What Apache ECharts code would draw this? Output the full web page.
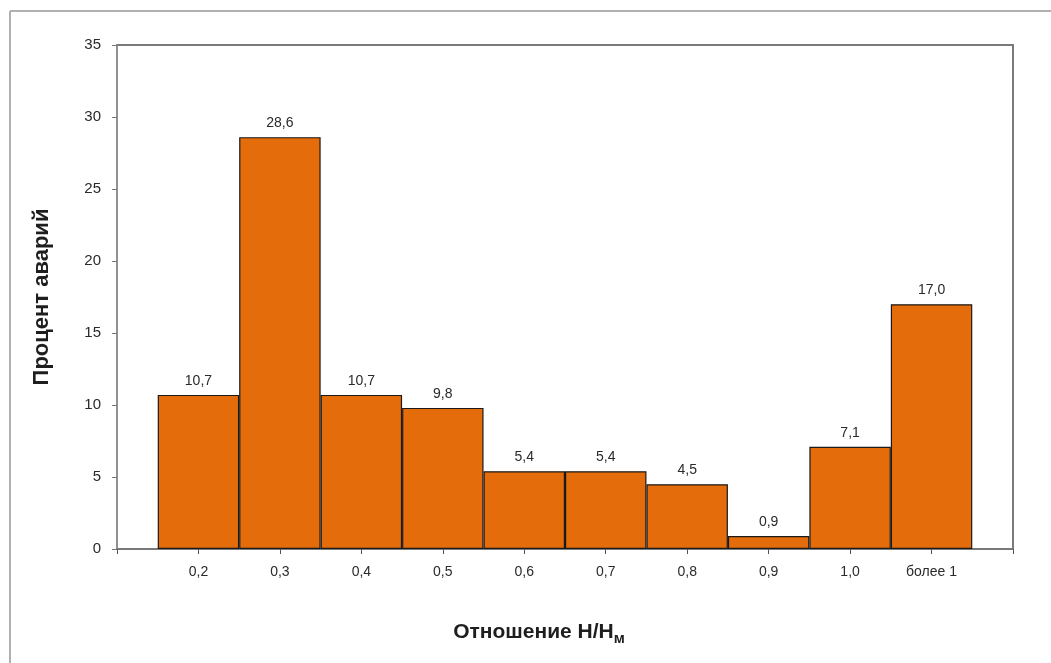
<!DOCTYPE html>
<html>
<head>
<meta charset="utf-8">
<script src="https://cdn.jsdelivr.net/npm/echarts@6/dist/echarts.min.js"></script>
<style>
  html, body { margin: 0; padding: 0; background: #fff; }
  #chart { width: 1051px; height: 663px; }
</style>
</head>
<body>
<div id="chart"></div>
<script>
// Ratio classes (H/Hm) and share of accidents in each class, %
const categories = ['0,2', '0,3', '0,4', '0,5', '0,6', '0,7', '0,8', '0,9', '1,0', 'более 1'];
const accidentShare = [10.7, 28.6, 10.7, 9.8, 5.4, 5.4, 4.5, 0.9, 7.1, 17.0];
const yTicks = [0, 5, 10, 15, 20, 25, 30, 35];

const FONT = '"Liberation Sans", Arial, sans-serif';
const chart = echarts.init(document.getElementById('chart'));

const gridLeft = 117, gridRight = 38, gridTop = 45, gridBottom = 114;
// bars are centred on positions 1..N and fill a whole unit of the x scale
const slots = categories.length + 1;
const barPx = (chart.getWidth() - gridLeft - gridRight) / slots;

const fmt = v => v.toFixed(1).replace('.', ',');

chart.setOption({
  animation: false,
  backgroundColor: '#fff',
  graphic: [
    { type: 'line', shape: { x1: 10, y1: 11, x2: 1051, y2: 11 }, style: { stroke: '#b0b0b0', lineWidth: 2 } },
    { type: 'line', shape: { x1: 10, y1: 11, x2: 10, y2: 663 }, style: { stroke: '#b0b0b0', lineWidth: 2 } }
  ],
  grid: {
    left: gridLeft, right: gridRight, top: gridTop, bottom: gridBottom,
    show: true, borderColor: '#7a7a7a', borderWidth: 2, backgroundColor: 'transparent'
  },
  xAxis: {
    type: 'value',
    min: 0, max: slots, interval: 1,
    name: 'Отношение Н/Н{sub|м}',
    nameLocation: 'middle',
    nameGap: 70,
    nameTextStyle: {
      fontFamily: FONT, fontSize: 21, fontWeight: 'bold', color: '#1e1e1e',
      padding: [0, 52, 0, 0],
      rich: { sub: { fontFamily: FONT, fontSize: 15, fontWeight: 'bold', color: '#1e1e1e', verticalAlign: 'bottom', padding: [12, 0, 0, 0] } }
    },
    axisLine: { lineStyle: { color: '#7a7a7a', width: 1.5 } },
    axisTick: { show: true, length: 5, lineStyle: { color: '#555' } },
    splitLine: { show: false },
    axisLabel: {
      margin: 16, fontFamily: FONT, fontSize: 14, color: '#2a2a2a',
      showMinLabel: true, showMaxLabel: true,
      formatter: v => (v >= 1 && v <= categories.length) ? categories[v - 1] : ''
    }
  },
  yAxis: {
    type: 'value',
    min: yTicks[0], max: yTicks[yTicks.length - 1], interval: yTicks[1] - yTicks[0],
    name: 'Процент аварий',
    nameLocation: 'middle',
    nameGap: 64,
    nameRotate: 90,
    nameTextStyle: { fontFamily: FONT, fontSize: 22, fontWeight: 'bold', color: '#1e1e1e' },
    axisLine: { show: true, lineStyle: { color: '#9a9a9a', width: 1.5 } },
    axisTick: { show: true, length: 5, lineStyle: { color: '#777' } },
    splitLine: { show: false },
    axisLabel: { margin: 16, fontFamily: FONT, fontSize: 15, color: '#2a2a2a' }
  },
  series: [{
    type: 'bar',
    barWidth: barPx,
    data: accidentShare.map((v, i) => [i + 1, v]),
    itemStyle: { color: '#E46C0A', borderColor: '#1a1a1a', borderWidth: 1.2 },
    label: {
      show: true, position: 'top', distance: 7,
      fontFamily: FONT, fontSize: 14, color: '#2a2a2a',
      formatter: p => fmt(p.value[1])
    }
  }]
});
</script>
</body>
</html>
